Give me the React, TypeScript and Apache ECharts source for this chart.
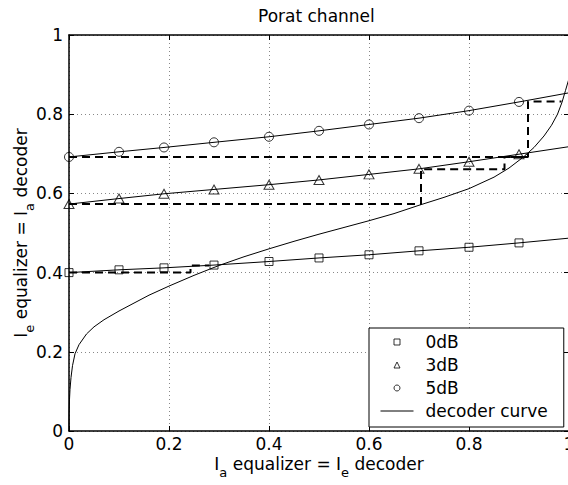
import React, { useEffect, useRef } from "react";
import * as echarts from "echarts";

// ---- data ----
const tickLabels = ["0", "0.2", "0.4", "0.6", "0.8", "1"];

// equalizer transfer curves: marker positions
const xPoints = [0, 0.1, 0.19, 0.29, 0.4, 0.5, 0.6, 0.7, 0.8, 0.9];
const snr0 = [0.4, 0.407, 0.412, 0.419, 0.428, 0.437, 0.445, 0.455, 0.464, 0.475];
const snr3 = [0.573, 0.587, 0.599, 0.61, 0.622, 0.634, 0.648, 0.662, 0.68, 0.699];
const snr5 = [0.692, 0.705, 0.716, 0.729, 0.743, 0.758, 0.774, 0.79, 0.809, 0.831];
// value of each equalizer curve at I_a = 1 (line continues past last marker)
const endX = 1;
const endValues = [0.487, 0.718, 0.854];

// decoder curve
const decX = [0, 0.0003, 0.001, 0.002, 0.004, 0.007, 0.012, 0.02, 0.035, 0.05, 0.07, 0.1, 0.13, 0.16, 0.2, 0.25, 0.3, 0.35, 0.4, 0.45, 0.5, 0.55, 0.6, 0.65, 0.7, 0.75, 0.8, 0.85, 0.88, 0.91, 0.93, 0.95, 0.965, 0.977, 0.986, 0.993, 1.0];
const decY = [0, 0.045, 0.08, 0.105, 0.135, 0.165, 0.195, 0.218, 0.245, 0.263, 0.281, 0.303, 0.323, 0.343, 0.366, 0.393, 0.418, 0.44, 0.46, 0.479, 0.497, 0.514, 0.531, 0.549, 0.57, 0.59, 0.612, 0.641, 0.664, 0.693, 0.716, 0.745, 0.772, 0.8, 0.83, 0.86, 0.89];

// decoding trajectories (dashed staircases)
const traj0X = [0, 0.243, 0.243, 0.28];
const traj0Y = [0.4, 0.4, 0.418, 0.418];
const traj3X = [0, 0.704, 0.704, 0.871, 0.871, 0.915, 0.915];
const traj3Y = [0.573, 0.573, 0.661, 0.661, 0.692, 0.692, 0.7];
const traj5X = [0, 0.918, 0.918, 0.985];
const traj5Y = [0.692, 0.692, 0.832, 0.832];

const seriesNames = ["0dB", "3dB", "5dB"];
const decoderName = "decoder curve";

const FONT = "DejaVu Sans";

function zip(xs: number[], ys: number[]) {
  return xs.map((x, i) => [x, ys[i]]);
}

export default function App() {
  const ref = useRef<HTMLDivElement>(null);

  useEffect(() => {
    if (!ref.current) return;
    const chart = echarts.init(ref.current, null, { renderer: "svg" });

    const markerValues = [snr0, snr3, snr5];
    const markerSymbols = ["rect", "triangle", "circle"];
    const legendIcons = [
      "path://M0,0H10V10H0Z",
      "path://M5,0L10,10H0Z",
      "circle",
    ];
    const markerSizes: any[] = [[8, 8], [10, 9], [9, 9]];

    const fitLines = markerValues.map((vals, i) => ({
      type: "line",
      data: [...zip(xPoints, vals), [endX, endValues[i]]],
      showSymbol: false,
      symbol: "none",
      lineStyle: { color: "#000", width: 1 },
      itemStyle: { color: "#000" },
      z: 2,
    }));

    const markers = markerValues.map((vals, i) => ({
      type: "scatter",
      name: seriesNames[i],
      data: zip(xPoints, vals),
      symbol: markerSymbols[i],
      symbolSize: markerSizes[i],
      itemStyle: { color: "transparent", borderColor: "#000", borderWidth: 1 },
      z: 4,
    }));

    const trajs = [
      [traj0X, traj0Y],
      [traj3X, traj3Y],
      [traj5X, traj5Y],
    ].map(([xs, ys]) => ({
      type: "line",
      data: zip(xs, ys),
      symbol: "none",
      showSymbol: false,
      lineStyle: { color: "#000", width: 2, type: [8, 5] },
      z: 3,
    }));

    const rich = {
      n: { fontFamily: FONT, fontSize: 17, color: "#000", lineHeight: 20, verticalAlign: "middle" },
      s: { fontFamily: FONT, fontSize: 13, color: "#000", lineHeight: 15, verticalAlign: "middle", padding: [16, 0, 0, 0] },
    };

    const axisLabelFmt = (v: number) => tickLabels[Math.round(v / 0.2)] ?? "";

    const baseAxis = {
      type: "value",
      min: 0,
      max: 1,
      interval: 0.2,
      axisLine: { show: true, onZero: false, lineStyle: { color: "#000", width: 1.5 } },
      axisTick: { show: true, inside: true, length: 5, lineStyle: { color: "#000", width: 1 } },
    };

    chart.setOption({
      animation: false,
      backgroundColor: "#fff",
      title: {
        text: "Porat channel",
        left: 258,
        top: 7,
        padding: 0,
        textStyle: { fontFamily: FONT, fontSize: 17, fontWeight: "normal", color: "#000" },
      },
      grid: { left: 69, top: 35, width: 500, height: 396, containLabel: false, outerBoundsMode: "none" },
      legend: {
        data: [
          ...seriesNames.map((n, i) => ({
            name: n,
            icon: legendIcons[i],
            itemStyle: { color: "transparent", borderColor: "#000", borderWidth: 1 },
          })),
          { name: decoderName, itemStyle: { opacity: 0 } },
        ],
        orient: "vertical",
        left: 369,
        top: 328,
        itemWidth: 33,
        itemHeight: 6,
        itemGap: 5,
        symbolKeepAspect: true,
        padding: [5, 16, 7, 11],
        borderColor: "#000",
        borderWidth: 1,
        borderRadius: 0,
        backgroundColor: "#fff",
        selectedMode: false,
        itemStyle: { borderWidth: 1 },
        lineStyle: { width: 1 },
        textStyle: { fontFamily: FONT, fontSize: 17, color: "#000", lineHeight: 18, padding: [0, 0, 0, 7] },
        z: 10,
      },
      xAxis: [
        {
          ...baseAxis,
          position: "bottom",
          axisLabel: { show: true, margin: 4, color: "#000", fontFamily: FONT, fontSize: 17, formatter: axisLabelFmt, showMinLabel: true, showMaxLabel: true },
          splitLine: { show: true, lineStyle: { color: "#888", width: 1, type: [1, 3] } },
          name: "{n|I}{s|a}{n| equalizer = I}{s|e}{n| decoder}",
          nameLocation: "middle",
          nameGap: 23,
          nameMoveOverlap: false,
          nameTextStyle: { rich },
        },
        {
          ...baseAxis,
          position: "top",
          axisLabel: { show: false },
          splitLine: { show: false },
        },
      ],
      yAxis: [
        {
          ...baseAxis,
          position: "left",
          axisLabel: { show: true, margin: 6, color: "#000", fontFamily: FONT, fontSize: 17, formatter: axisLabelFmt, showMinLabel: true, showMaxLabel: true },
          splitLine: { show: true, lineStyle: { color: "#888", width: 1, type: [1, 3] } },
          name: "{n|I}{s|e}{n| equalizer = I}{s|a}{n| decoder}",
          nameLocation: "middle",
          nameGap: 38,
          nameRotate: 90,
          nameMoveOverlap: false,
          nameTextStyle: { rich },
        },
        {
          ...baseAxis,
          position: "right",
          axisLabel: { show: false },
          splitLine: { show: false },
        },
      ],
      series: [
        ...fitLines,
        {
          type: "line",
          name: decoderName,
          data: zip(decX, decY),
          symbol: "none",
          showSymbol: false,
          lineStyle: { color: "#000", width: 1 },
          itemStyle: { color: "#000" },
          z: 2,
        },
        ...trajs,
        ...markers,
      ],
    });

    return () => chart.dispose();
  }, []);

  return (
    <div
      ref={ref}
      style={{ position: "absolute", left: 0, top: 0, width: 568, height: 485 }}
    />
  );
}
